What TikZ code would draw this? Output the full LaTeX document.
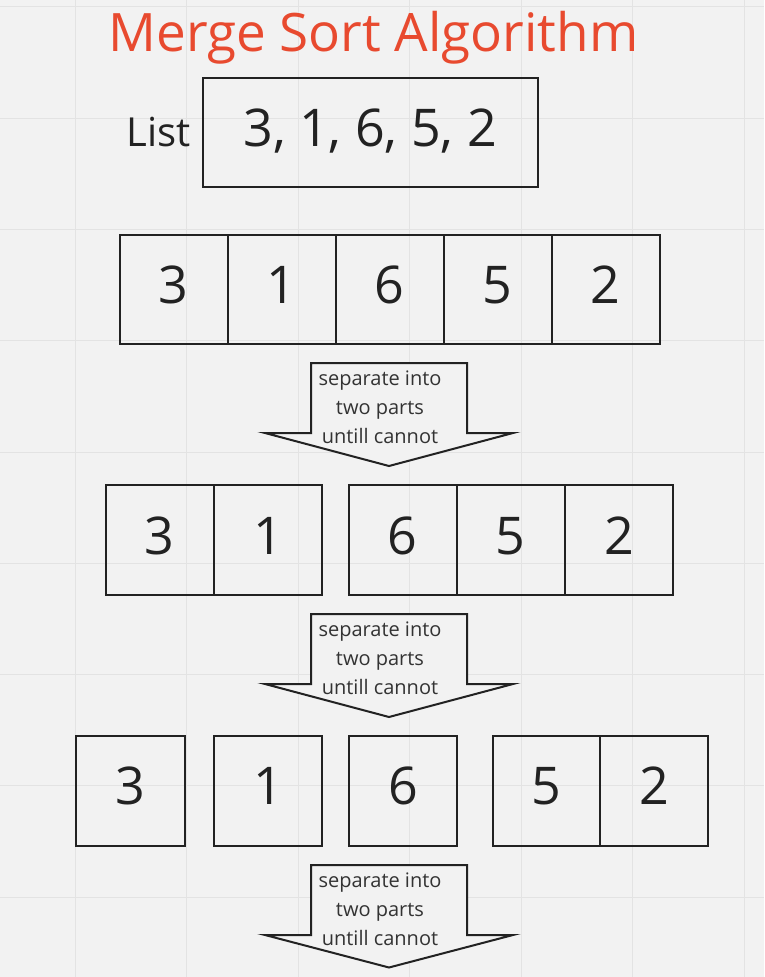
\documentclass[tikz,border=0pt]{standalone}
\usepackage{fontspec}
\setmainfont{Open Sans}
\definecolor{bg}{HTML}{F2F2F2}
\definecolor{gridc}{HTML}{E3E3E3}
\definecolor{titlec}{HTML}{E84A2F}
\definecolor{ink}{HTML}{222222}
\definecolor{txt}{HTML}{333333}
\begin{document}
\begin{tikzpicture}[x=1pt,y=-1pt,
  gridline/.style={draw=gridc, line width=1pt},
  cell/.style={draw=ink, line width=2pt, minimum width=108pt, minimum height=109.5pt,
    inner sep=0pt, outer sep=0pt, font=\fontsize{52}{60}\selectfont, text=ink,
    text height=38pt, text depth=10pt},
  listbox/.style={draw=ink, line width=2pt, minimum width=334.8pt, minimum height=109.6pt,
    inner sep=0pt, font=\fontsize{52}{60}\selectfont, text=ink, text height=37pt, text depth=8.6pt},
  blockarrow/.style={draw=ink, line width=2pt, fill=bg, line join=miter},
  arrowtext/.style={font=\fontsize{20}{29}\selectfont, text=txt, align=center, inner sep=0pt},
  titletext/.style={font=\fontsize{53}{60}\selectfont, text=titlec, inner sep=0pt},
  labeltext/.style={font=\fontsize{40}{48}\selectfont, text=ink, inner sep=0pt}]
\fill[bg] (0,0) rectangle (764,977);
\useasboundingbox (0,0) rectangle (764,977);
\foreach \x in {75.4,186.9,298.4,409.9,521.4,632.9,744.4}
  \draw[gridline] (\x,0) -- (\x,977);
\foreach \y in {6.8,118.1,229.4,340.7,452,563.3,674.6,785.9,897.2}
  \draw[gridline] (0,\y) -- (764,\y);

% title and list
\node[titletext, anchor=base] (title) at (373.5,51.7) {Merge Sort Algorithm};
\node[labeltext, anchor=base] (listlabel) at (158.3,146.7) {List};
\node[listbox] (list) at (370.1,132.5) {3, 1, 6, 5, 2};

% row 1
\node[cell] (r1a) at (173.5,289.25) {3};
\node[cell] (r1b) at (281.5,289.25) {1};
\node[cell] (r1c) at (389.5,289.25) {6};
\node[cell] (r1d) at (497.5,289.25) {5};
\node[cell] (r1e) at (605.5,289.25) {2};

% arrow 1
\draw[blockarrow] (311,363) -- (467,363) -- (467,433) -- (513,433) -- (389,466) -- (265,433) -- (311,433) -- cycle;
\node[arrowtext] (t1) at (380,407.5) {separate into\\two parts\\untill cannot};

% row 2
\node[cell, minimum height=110pt, minimum width=108.4pt] (r2a) at (159.7,540) {3};
\node[cell, minimum height=110pt, minimum width=108.4pt] (r2b) at (268.1,540) {1};
\node[cell, minimum height=110pt] (r2c) at (402.7,540) {6};
\node[cell, minimum height=110pt] (r2d) at (510.8,540) {5};
\node[cell, minimum height=110pt] (r2e) at (618.9,540) {2};

% arrow 2
\draw[blockarrow] (311,614) -- (467,614) -- (467,684) -- (513,684) -- (389,717) -- (265,684) -- (311,684) -- cycle;
\node[arrowtext] (t2) at (380,658.5) {separate into\\two parts\\untill cannot};

% row 3
\node[cell, minimum height=110pt, minimum width=109pt] (r3a) at (130.7,790.7) {3};
\node[cell, minimum height=110pt] (r3b) at (267.9,790.7) {1};
\node[cell, minimum height=110pt] (r3c) at (403,790.7) {6};
\node[cell, minimum height=110pt, minimum width=107.5pt] (r3d) at (546.25,790.7) {5};
\node[cell, minimum height=110pt] (r3e) at (654,790.7) {2};

% arrow 3
\draw[blockarrow] (311,865) -- (467,865) -- (467,935) -- (513,935) -- (389,967.5) -- (265,935) -- (311,935) -- cycle;
\node[arrowtext] (t3) at (380,909.5) {separate into\\two parts\\untill cannot};
\end{tikzpicture}
\end{document}
